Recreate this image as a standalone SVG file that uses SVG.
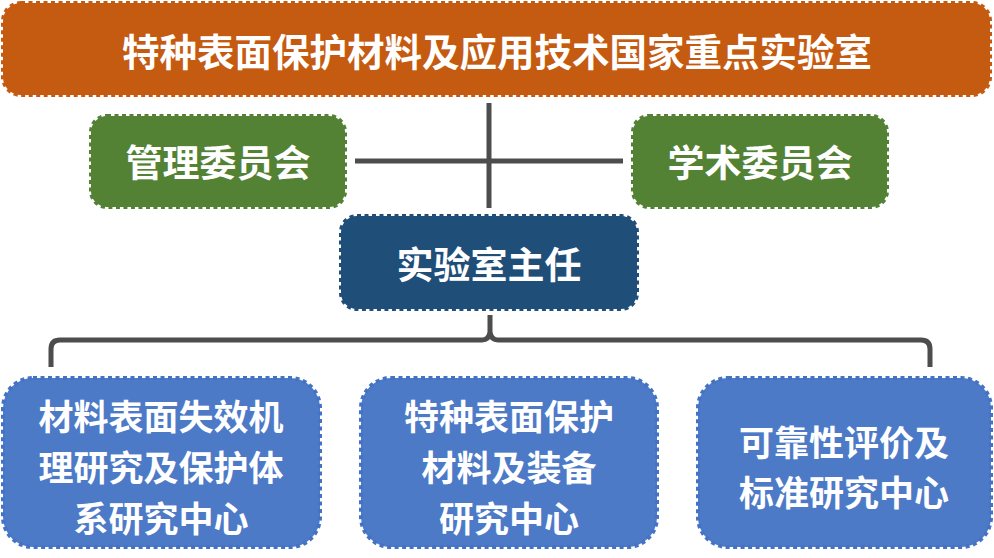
<svg xmlns="http://www.w3.org/2000/svg" width="994" height="558" viewBox="0 0 994 558">
<style>
.box{stroke-width:4;stroke-dasharray:4 3.5}
.orange{fill:#C55A11;stroke:#C55A11}
.green{fill:#548235;stroke:#548235}
.navy{fill:#1F4E79;stroke:#1F4E79}
.blue{fill:#4D7AC7;stroke:#4472C4}
text{font-family:"Noto Sans CJK SC","Noto Sans CJK TC",sans-serif;font-weight:bold;fill:#FFFFFF;text-anchor:middle;dominant-baseline:central}
.t38{font-size:37.5px}
.t37{font-size:37px}
.t35{font-size:35px}
.conn{fill:none;stroke:#4D4D4D;stroke-width:5}
</style>
<rect width="994" height="558" fill="#FFFFFF"/>
<g id="connectors">
<line class="conn" x1="489" y1="103" x2="489" y2="208"/>
<line class="conn" x1="355" y1="161" x2="623" y2="161"/>
<path class="conn" stroke-linejoin="round" d="M51,367 V349 Q51,340 60,340 H482 Q489,340 490,332 V315 M490,332 Q491,340 498,340 H921 Q930,340 930,349 V367"/>
</g>
<g id="top">
<rect class="box orange" x="3" y="3" width="987" height="92" rx="18"/>
<text class="t38" x="497" y="49">特种表面保护材料及应用技术国家重点实验室</text>
</g>
<g id="mgmt">
<rect class="box green" x="91" y="116" width="254" height="91" rx="16"/>
<text class="t37" x="218" y="161">管理委员会</text>
</g>
<g id="acad">
<rect class="box green" x="633" y="116" width="254" height="91" rx="16"/>
<text class="t37" x="760" y="161">学术委员会</text>
</g>
<g id="director">
<rect class="box navy" x="341" y="216" width="296" height="93" rx="16"/>
<text class="t37" x="489" y="263">实验室主任</text>
</g>
<g id="c1">
<rect class="box blue" x="3" y="378" width="317" height="169" rx="30"/>
<text class="t35" x="161" y="414">材料表面失效机</text>
<text class="t35" x="161" y="465">理研究及保护体</text>
<text class="t35" x="161" y="516">系研究中心</text>
</g>
<g id="c2">
<rect class="box blue" x="361" y="378" width="296" height="169" rx="30"/>
<text class="t35" x="509" y="414">特种表面保护</text>
<text class="t35" x="509" y="465">材料及装备</text>
<text class="t35" x="509" y="516">研究中心</text>
</g>
<g id="c3">
<rect class="box blue" x="698" y="378" width="293" height="169" rx="30"/>
<text class="t35" x="844" y="440">可靠性评价及</text>
<text class="t35" x="844" y="490">标准研究中心</text>
</g>
</svg>
